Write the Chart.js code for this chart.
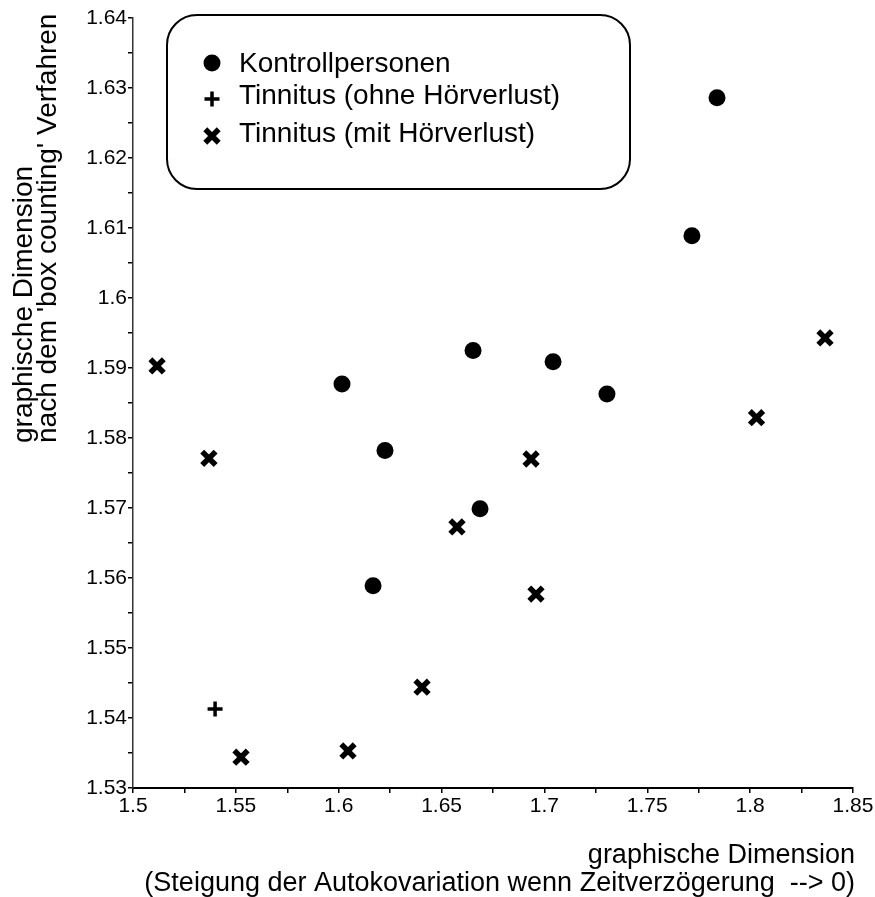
<!DOCTYPE html>
<html>
<head>
<meta charset="utf-8">
<script src="https://cdn.jsdelivr.net/npm/chart.js@4.4.1/dist/chart.umd.min.js"></script>
<style>
  body { margin: 0; background: #fff; }
  #wrap { width: 875px; height: 897px; position: relative; }
</style>
</head>
<body>
<div id="wrap"><canvas id="scatterChart"></canvas></div>
<script>
// values
const kontrollX = [1.7839, 1.7717, 1.6653, 1.7042, 1.6016, 1.7304, 1.6225, 1.6687, 1.6167];
const kontrollY = [1.6286, 1.6089, 1.5925, 1.5909, 1.5877, 1.5863, 1.5782, 1.5699, 1.5589];

const ohneX = [1.5399];
const ohneY = [1.5413];

const mitX = [1.5117, 1.5369, 1.8364, 1.8031, 1.6935, 1.6575, 1.6959, 1.6405, 1.5525, 1.6045];
const mitY = [1.5903, 1.5771, 1.5943, 1.5829, 1.5770, 1.5673, 1.5577, 1.5444, 1.5344, 1.5353];

const seriesNames = ["Kontrollpersonen", "Tinnitus (ohne Hörverlust)", "Tinnitus (mit Hörverlust)"];
const xTitle = ["graphische Dimension", "(Steigung der Autokovariation wenn Zeitverzögerung  --> 0)"];
const yTitle = ["graphische Dimension", "nach dem 'box counting' Verfahren"];

const FONT = '"Liberation Sans", Arial, Helvetica, sans-serif';

function toPoints(xs, ys) {
  return xs.map((x, i) => ({ x: x, y: ys[i] }));
}

const styles = [
  { pointStyle: "circle", radius: 8.5, borderWidth: 0 },
  { pointStyle: "cross", radius: 7.5, borderWidth: 3.5 },
  { pointStyle: "crossRot", radius: 9.5, borderWidth: 5.5 },
];

// legend box and axis titles drawn by hand
const extras = {
  id: "extras",
  afterDraw(chart) {
    const ctx = chart.ctx;
    ctx.save();
    ctx.strokeStyle = "#000";
    ctx.fillStyle = "#000";

    // rounded legend frame
    ctx.lineWidth = 2;
    ctx.beginPath();
    ctx.roundRect(167, 15, 463, 174, 30);
    ctx.stroke();

    const markY = [63, 99, 136];
    const textY = [72, 104, 142];
    ctx.font = "28px " + FONT;
    ctx.textAlign = "left";
    ctx.textBaseline = "alphabetic";
    seriesNames.forEach((name, i) => {
      ctx.lineWidth = styles[i].borderWidth;
      Chart.helpers.drawPoint(ctx, {
        pointStyle: styles[i].pointStyle,
        radius: styles[i].radius,
        borderWidth: styles[i].borderWidth,
        rotation: 0,
      }, 212, markY[i]);
      ctx.fillText(name, 239, textY[i]);
    });

    // x axis title, right aligned
    ctx.font = "27px " + FONT;
    ctx.textAlign = "right";
    ctx.fillText(xTitle[0], 855, 863);
    ctx.fillText(xTitle[1], 855, 891);

    // y axis title, rotated
    ctx.font = "28px " + FONT;
    ctx.textAlign = "left";
    [32, 56].forEach((bx, i) => {
      ctx.save();
      ctx.translate(bx, 443);
      ctx.rotate(-Math.PI / 2);
      ctx.fillText(yTitle[i], 0, 0);
      ctx.restore();
    });
    ctx.restore();
  },
};

const data = {
  datasets: [
    {
      label: seriesNames[0],
      data: toPoints(kontrollX, kontrollY),
      pointStyle: styles[0].pointStyle,
      pointRadius: styles[0].radius,
      pointBorderWidth: 0,
      backgroundColor: "#000",
      borderColor: "#000",
    },
    {
      label: seriesNames[1],
      data: toPoints(ohneX, ohneY),
      pointStyle: styles[1].pointStyle,
      pointRadius: styles[1].radius,
      pointBorderWidth: styles[1].borderWidth,
      backgroundColor: "#000",
      borderColor: "#000",
    },
    {
      label: seriesNames[2],
      data: toPoints(mitX, mitY),
      pointStyle: styles[2].pointStyle,
      pointRadius: styles[2].radius,
      pointBorderWidth: styles[2].borderWidth,
      backgroundColor: "#000",
      borderColor: "#000",
    },
  ],
};

const tickFont = { family: FONT, size: 21 };

const config = {
  type: "scatter",
  data: data,
  plugins: [extras],
  options: {
    responsive: true,
    maintainAspectRatio: false,
    animation: false,
    events: [],
    layout: { padding: { top: 18, right: 22, left: 0, bottom: 0 } },
    plugins: {
      legend: { display: false },
      tooltip: { enabled: false },
    },
    scales: {
      x: {
        type: "linear",
        min: 1.5,
        max: 1.85,
        afterFit: (s) => { s.height = 109; },
        ticks: {
          stepSize: 0.025,
          autoSkip: false,
          maxRotation: 0,
          color: "#000",
          font: tickFont,
          padding: 1,
          callback: (v) => (Math.round(v * 1000) % 50 === 0 ? String(Number(v.toFixed(3))) : ""),
        },
        grid: { drawOnChartArea: false, tickLength: 5, color: "#000", lineWidth: 1.5 },
        border: { color: "#000", width: 2 },
      },
      y: {
        type: "linear",
        min: 1.53,
        max: 1.64,
        afterFit: (s) => { s.width = 133; },
        ticks: {
          stepSize: 0.005,
          autoSkip: false,
          color: "#000",
          font: tickFont,
          padding: 1,
          callback: (v) => (Math.round(v * 1000) % 10 === 0 ? String(Number(v.toFixed(3))) : ""),
        },
        grid: { drawOnChartArea: false, tickLength: 5, color: "#000", lineWidth: 1.5 },
        border: { color: "#333", width: 1.5 },
      },
    },
  },
};

const scatterChart = new Chart(document.getElementById("scatterChart"), config);
</script>
</body>
</html>
